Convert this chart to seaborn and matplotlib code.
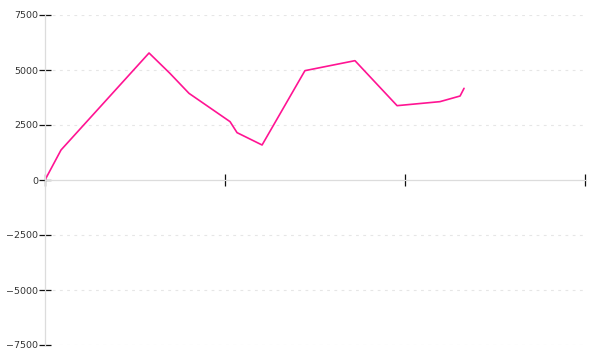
import matplotlib
matplotlib.use("Agg")
import matplotlib.pyplot as plt
import seaborn as sns
import pandas as pd

# Data
x_values = [0.0, 0.089, 0.578, 0.694, 0.800, 1.028, 1.067, 1.206, 1.444, 1.722, 1.956, 2.194, 2.306, 2.328]
y_values = [0, 1364, 5773, 4848, 3939, 2652, 2152, 1591, 4970, 5424, 3379, 3561, 3818, 4167]
y_ticks = [-7500, -5000, -2500, 0, 2500, 5000, 7500]
x_ticks = [0, 1, 2, 3]

sns.set_style("white")
plt.rcParams['font.family'] = ['DejaVu Sans']

df = pd.DataFrame({"x": x_values, "y": y_values})

fig = plt.figure(figsize=(6, 3.6), dpi=100)
ax = fig.add_axes([45/600, 15/360, 540/600, 330/360])

sns.lineplot(data=df, x="x", y="y", ax=ax, color="#ff1493", linewidth=1.2, sort=False)

ax.set_xlim(0, 3)
ax.set_ylim(-7500, 7500)
ax.set_yticks(y_ticks)
ax.set_yticklabels([str(v).replace('-', '\u2212') for v in y_ticks])
ax.set_xticks(x_ticks)
ax.set_xticklabels([])
ax.set_xlabel("")
ax.set_ylabel("")

for v in y_ticks:
    if v != 0:
        ax.axhline(v, color="#e6e6e6", linewidth=0.8, linestyle=(0, (2.5, 4)), zorder=0)

for s in ["top", "right"]:
    ax.spines[s].set_visible(False)
ax.spines["left"].set_color("#dcdcdc")
ax.spines["left"].set_linewidth(0.9)
ax.spines["bottom"].set_position(("data", 0))
ax.spines["bottom"].set_color("#dcdcdc")
ax.spines["bottom"].set_linewidth(0.9)

ax.tick_params(axis="y", left=True, direction="inout", length=8, width=0.9, color="#111111",
               labelsize=6.8, labelcolor="#333333", pad=1)
ax.tick_params(axis="x", bottom=True, direction="inout", length=9, width=0.9, color="#111111")

ax.grid(False)
fig.savefig("out.png", dpi=100)
